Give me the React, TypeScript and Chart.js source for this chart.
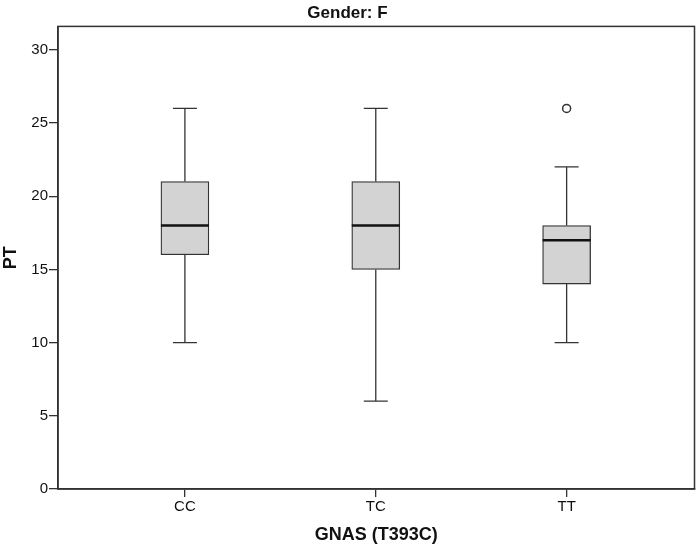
import React, { useEffect, useRef } from "react";
import { Chart, registerables } from "chart.js";

Chart.register(...registerables);

const categories = ["CC", "TC", "TT"];
const whiskerLow = [10, 6, 10];
const q1 = [16, 15, 14];
const median = [18, 18, 17];
const q3 = [21, 21, 18];
const whiskerHigh = [26, 26, 22];
const outlierCategory = [3];
const outlierValue = [26];
const yTicks = [0, 5, 10, 15, 20, 25, 30];

const FONT = "'Liberation Sans', Arial, sans-serif";
const LINE = "#333333";

const boxPlugin = {
  id: "boxExtras",
  afterDatasetsDraw(chart: any) {
    const { ctx, scales } = chart;
    const x = scales.x;
    const y = scales.y;
    ctx.save();
    categories.forEach((_, i) => {
      const cx = x.getPixelForValue(i + 1);
      const capHalf = 12;
      const boxHalf = 24;
      ctx.strokeStyle = LINE;
      ctx.lineWidth = 1.3;
      ctx.beginPath();
      ctx.moveTo(cx, y.getPixelForValue(q3[i]));
      ctx.lineTo(cx, y.getPixelForValue(whiskerHigh[i]));
      ctx.moveTo(cx - capHalf, y.getPixelForValue(whiskerHigh[i]));
      ctx.lineTo(cx + capHalf, y.getPixelForValue(whiskerHigh[i]));
      ctx.moveTo(cx, y.getPixelForValue(q1[i]));
      ctx.lineTo(cx, y.getPixelForValue(whiskerLow[i]));
      ctx.moveTo(cx - capHalf, y.getPixelForValue(whiskerLow[i]));
      ctx.lineTo(cx + capHalf, y.getPixelForValue(whiskerLow[i]));
      ctx.stroke();
      ctx.strokeStyle = "#111111";
      ctx.lineWidth = 2.5;
      ctx.beginPath();
      ctx.moveTo(cx - boxHalf, y.getPixelForValue(median[i]));
      ctx.lineTo(cx + boxHalf, y.getPixelForValue(median[i]));
      ctx.stroke();
    });
    const a = chart.chartArea;
    ctx.strokeStyle = LINE;
    ctx.lineWidth = 1.5;
    ctx.strokeRect(a.left, a.top, a.right - a.left, a.bottom - a.top);
    ctx.restore();
  },
};

export default function App() {
  const ref = useRef<HTMLCanvasElement | null>(null);
  useEffect(() => {
    document.body.style.margin = "0";
    const canvas = ref.current;
    if (!canvas) return;
    const chart = new Chart(canvas, {
      type: "bar",
      data: {
        datasets: [
          {
            type: "bar",
            data: categories.map((_, i) => ({ x: i + 1, y: [q1[i], q3[i]] })) as any,
            backgroundColor: "#d3d3d3",
            borderColor: LINE,
            borderWidth: 1.3,
            borderSkipped: false,
            barThickness: 48,
          } as any,
          {
            type: "scatter",
            data: outlierCategory.map((c, i) => ({ x: c, y: outlierValue[i] })),
            pointStyle: "circle",
            pointRadius: 4,
            pointBackgroundColor: "#ffffff",
            pointBorderColor: LINE,
            pointBorderWidth: 1.5,
          } as any,
        ],
      },
      options: {
        animation: false,
        responsive: false,
        maintainAspectRatio: false,
        layout: { padding: { right: 5, left: 0, top: 0, bottom: 0 } },
        plugins: {
          legend: { display: false },
          tooltip: { enabled: false },
          title: {
            display: true,
            text: "Gender: F",
            color: "#111",
            font: { family: FONT, size: 17, weight: "bold" },
            padding: { top: 3, bottom: 3 },
          },
        },
        scales: {
          x: {
            type: "linear",
            min: 0.335,
            max: 3.67,
            offset: false,
            afterBuildTicks: (s: any) => {
              s.ticks = categories.map((_, i) => ({ value: i + 1 }));
            },
            afterFit: (s: any) => {
              s.height = 61;
            },
            ticks: {
              color: "#111",
              font: { family: FONT, size: 15 },
              padding: 1,
              maxRotation: 0,
              autoSkip: false,
              callback: (v: any) => categories[Math.round(Number(v)) - 1] ?? "",
            },
            grid: { drawOnChartArea: false, offset: false, color: LINE, tickLength: 8, lineWidth: 1.3 },
            border: { display: true, color: LINE, width: 1.5 },
            title: {
              display: true,
              text: "GNAS (T393C)",
              color: "#111",
              font: { family: FONT, size: 18, weight: "bold" },
              padding: { top: 2, bottom: 4 },
            },
          },
          y: {
            type: "linear",
            min: 0,
            max: 31.6,
            afterBuildTicks: (s: any) => {
              s.ticks = yTicks.map((v) => ({ value: v }));
            },
            afterFit: (s: any) => {
              s.width = 58;
            },
            ticks: {
              color: "#111",
              font: { family: FONT, size: 15 },
              padding: 1,
            },
            grid: { drawOnChartArea: false, color: LINE, tickLength: 9, lineWidth: 1.3 },
            border: { display: true, color: LINE, width: 1.5 },
            title: {
              display: true,
              text: "PT",
              color: "#111",
              font: { family: FONT, size: 18, weight: "bold" },
              padding: { top: 0, bottom: 0 },
            },
          },
        },
      },
      plugins: [boxPlugin],
    } as any);
    return () => chart.destroy();
  }, []);
  return (
    <div style={{ width: 700, height: 550, background: "#fff" }}>
      <canvas ref={ref} width={700} height={550} style={{ display: "block" }} />
    </div>
  );
}
